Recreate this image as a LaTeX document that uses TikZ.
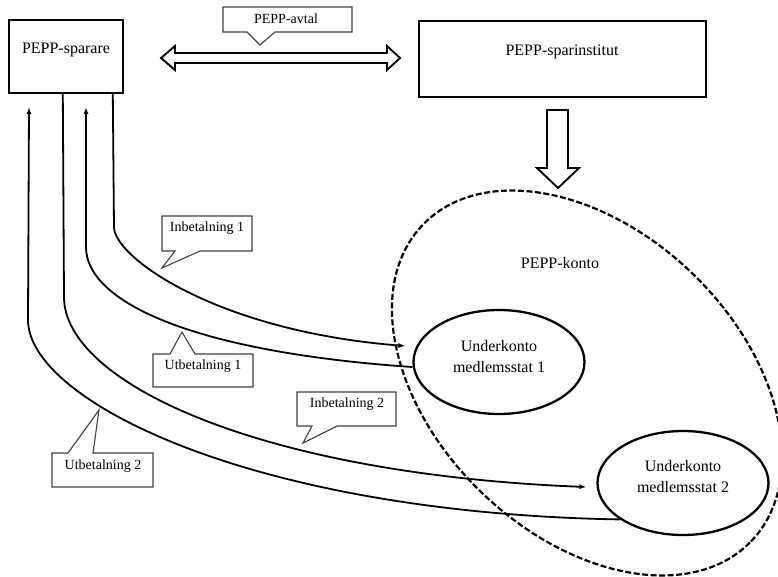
\documentclass[tikz,border=0pt]{standalone}
\usepackage{fontspec}
\setmainfont{Liberation Serif}
\usetikzlibrary{arrows.meta,shapes.geometric,calc}
\begin{document}
\begin{tikzpicture}[x=1pt,y=-1pt,
  box/.style={draw, line width=2.4pt, inner sep=0pt},
  big/.style={font=\fontsize{16}{21}\selectfont, inner sep=0pt, align=center},
  small/.style={font=\fontsize{14}{16}\selectfont, inner sep=0pt},
  call/.style={draw=black!75, line width=1.1pt, line join=miter},
  flow/.style={line width=1.8pt},
  tipend/.style={-{Latex[length=7pt,width=5pt]}},
  fat/.style={draw, line width=1.9pt, line join=miter},
  sub/.style={draw, ellipse, line width=2.3pt, minimum width=171pt, minimum height=104pt, inner sep=0pt}
]
\useasboundingbox (0,0) rectangle (778,576);

% main boxes
\node[box, minimum width=114pt, minimum height=73pt] (sparare) at (66,56.5) {};
\node[big] (spararetxt) at (66,50) {PEPP-sparare};
\node[box, minimum width=287pt, minimum height=76pt] (inst) at (562.5,59) {};
\node[big] (insttxt) at (562,52) {PEPP-sparinstitut};

% big dashed ellipse
\node[draw, ellipse, line width=2.2pt, dash pattern=on 6pt off 2.5pt,
      minimum width=456pt, minimum height=304pt, rotate=-44, inner sep=0pt] (konto) at (587,383) {};
\node[big] (kontotxt) at (560,263) {PEPP-konto};

% sub accounts
\node[sub] (u1) at (499,362) {};
\node[big] (u1txt) at (499,357) {Underkonto\\medlemsstat 1};
\node[sub] (u2) at (683,483) {};
\node[big] (u2txt) at (683,477) {Underkonto\\medlemsstat 2};

% double arrow (agreement)
\draw[fat] (161,58) -- (175,46) -- (175,53) -- (387,53) -- (387,46) -- (400,58)
  -- (387,70) -- (387,63) -- (175,63) -- (175,70) -- cycle;
% down arrow
\draw[fat] (547,110) -- (568,110) -- (568,168) -- (579,168) -- (558,188)
  -- (537,168) -- (547,168) -- cycle;

% flows
\coordinate (atip) at (29,107);
\coordinate (ctip) at (86,107);
% Inbetalning 1
\draw[flow,tipend] ($(sparare.south west)+(105,0)$) -- (114,227)
  .. controls (114,257) and (216,331) .. ($(u1.west)+(-7,-16)$);
% Utbetalning 1
\draw[flow,tipend] ($(u1.west)+(0,5)$) .. controls (193,352) and (86,302) .. (86,247) -- (ctip);
% Inbetalning 2
\draw[flow,tipend] ($(sparare.south west)+(55,0)$) -- (64,297)
  .. controls (64,382) and (258,474) .. ($(u2.west)+(-10,4)$);
% Utbetalning 2
\draw[flow,tipend] (u2.210) .. controls (250,513) and (28,400) .. (28,320) -- (atip);

% callouts
\draw[call] (223,7) -- (352,7) -- (352,32) -- (275,32) -- (260,45) -- (247,32) -- (223,32) -- cycle;
\node[small] (avtal) at (286,19) {PEPP-avtal};

\draw[call] (162,216) -- (252,216) -- (252,251) -- (200,251) -- (162,268) -- (175,251) -- (162,251) -- cycle;
\node[small] (in1) at (207,228) {Inbetalning 1};

\draw[call] (153,354) -- (170,354) -- (182,332) -- (195,354) -- (253,354) -- (253,387) -- (153,387) -- cycle;
\node[small] (ut1) at (203,366) {Utbetalning 1};

\draw[call] (297,392) -- (396,392) -- (396,426) -- (337,426) -- (303,443) -- (312,426) -- (297,426) -- cycle;
\node[small] (in2) at (347,404) {Inbetalning 2};

\draw[call] (52,453) -- (68,453) -- (99,410) -- (93,453) -- (153,453) -- (153,487) -- (52,487) -- cycle;
\node[small] (ut2) at (103,466) {Utbetalning 2};
\end{tikzpicture}
\end{document}
